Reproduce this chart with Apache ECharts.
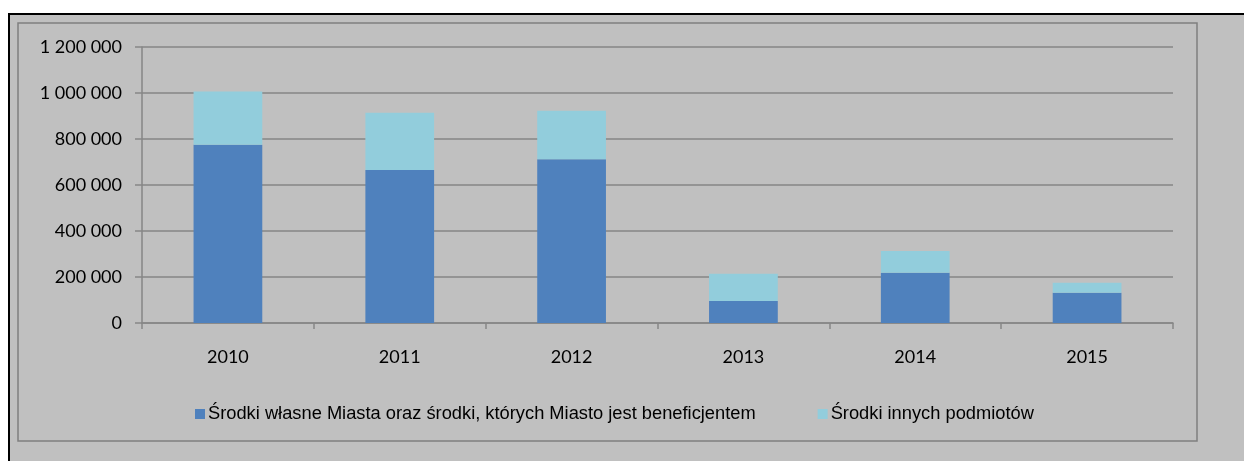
<!DOCTYPE html>
<html>
<head>
<meta charset="utf-8">
<script src="https://cdn.jsdelivr.net/npm/echarts@6/dist/echarts.min.js"></script>
<style>
  html, body { margin: 0; padding: 0; background: #fff; }
  #frame {
    position: absolute; left: 8px; top: 13px; right: 0; bottom: 0;
    border-left: 2px solid #000; border-top: 2px solid #000;
    background: #c0c0c0;
  }
  #myChart { width: 100%; height: 100%; }
</style>
</head>
<body>
<div id="frame"><div id="myChart"></div></div>
<script type="text/javascript">

  // data
  var years = ["2010", "2011", "2012", "2013", "2014", "2015"];
  var ownFunds = [775000, 665000, 712000, 96000, 219000, 132000];
  var otherFunds = [231000, 249000, 211000, 118000, 94000, 43000];
  var seriesNames = [
    "Środki własne Miasta oraz środki, których Miasto jest beneficjentem",
    "Środki innych podmiotów"
  ];
  var colors = ["#4F81BD", "#92CDDC"];

  var chartDom = document.getElementById("myChart");
  var myChart = echarts.init(chartDom);

  var axisColor = "#868686";

  // 1 200 000 style labels
  function spaced(v) {
    return String(v).replace(/\B(?=(\d{3})+(?!\d))/g, " ");
  }

  var option = {
    backgroundColor: "transparent",
    color: colors,
    animation: false,
    grid: { left: 132, top: 32, right: 71, bottom: 138 },
    graphic: [
      {
        type: "rect",
        shape: { x: 8, y: 8, width: 1179, height: 418 },
        style: { fill: "none", stroke: "#7f7f7f", lineWidth: 1.5 },
        silent: true
      }
    ],
    legend: {
      left: 180,
      top: 385,
      itemWidth: 10,
      itemHeight: 10,
      itemGap: 62,
      icon: "rect",
      textStyle: {
        fontFamily: "Liberation Sans",
        fontSize: 18.3,
        color: "#000",
        padding: [0, 0, 0, -2]
      },
      data: seriesNames
    },
    xAxis: {
      type: "category",
      data: years,
      axisLine: { lineStyle: { color: axisColor, width: 1.5 } },
      axisTick: { show: true, length: 6, lineStyle: { color: axisColor, width: 1.5 } },
      axisLabel: {
        margin: 25,
        fontFamily: "Lato",
        fontSize: 18,
        color: "#000"
      }
    },
    yAxis: {
      type: "value",
      min: 0,
      max: 1200000,
      interval: 200000,
      axisLine: { show: true, lineStyle: { color: axisColor, width: 1.5 } },
      axisTick: { show: true, length: 7, lineStyle: { color: axisColor, width: 1.5 } },
      splitLine: { lineStyle: { color: axisColor, width: 1.5 } },
      axisLabel: {
        margin: 20,
        fontFamily: "Lato",
        fontSize: 18,
        color: "#000",
        formatter: spaced
      }
    },
    series: [
      {
        name: seriesNames[0],
        type: "bar",
        stack: "total",
        barWidth: "40%",
        data: ownFunds
      },
      {
        name: seriesNames[1],
        type: "bar",
        stack: "total",
        barWidth: "40%",
        data: otherFunds
      }
    ]
  };

  option && myChart.setOption(option);
</script>
</body>
</html>
